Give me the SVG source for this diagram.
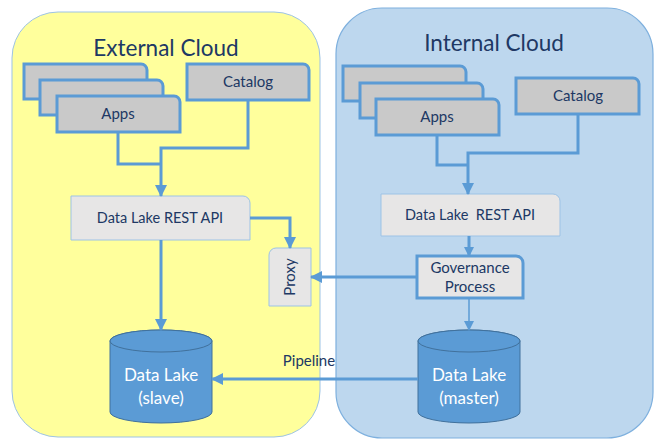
<svg xmlns="http://www.w3.org/2000/svg" width="655" height="439" viewBox="0 0 655 439">
<defs>
<style>
.t{font-family:Lato,"Liberation Sans",sans-serif;fill:#203864;text-anchor:middle}
.title{font-size:22.5px}
.lbl{font-size:15px}
.api-t{font-size:14.5px}
.cyl{font-size:17px;fill:#ffffff}
.app{fill:#c9c9c9;stroke:#5b9bd5;stroke-width:3}
.api{fill:#e7e6e6;stroke:#9dc3e6;stroke-width:1}
.gov{fill:#e7e6e6;stroke:#5b9bd5;stroke-width:3}
.db{fill:#5b9bd5;stroke:#41719c;stroke-width:1}
.c{fill:none;stroke:#5b9bd5;stroke-width:3}
.thin{fill:none;stroke:#5b9bd5;stroke-width:1.5}
</style>
<marker id="ah" markerUnits="userSpaceOnUse" markerWidth="12" markerHeight="12" viewBox="0 0 12 12" refX="11" refY="6" orient="auto">
<path d="M0,0 L12,6 L0,12 Z" fill="#5b9bd5"/>
</marker>
<marker id="ahs" markerUnits="userSpaceOnUse" markerWidth="10" markerHeight="10" viewBox="0 0 10 10" refX="9" refY="5" orient="auto">
<path d="M0,0 L10,5 L0,10 Z" fill="#5b9bd5"/>
</marker>
</defs>

<g id="external-cloud">
<rect x="12" y="12" width="308" height="425" rx="46" fill="#ffff9c" stroke="#9dc3e6" stroke-width="1"/>
<text class="t title" x="166" y="56">External Cloud</text>
</g>
<g id="internal-cloud">
<rect x="336" y="8" width="317" height="430" rx="46" fill="#bdd7ee" stroke="#7eb0de" stroke-width="1.2"/>
<text class="t title" x="494" y="51">Internal Cloud</text>
</g>

<g id="ext-apps">
<path class="app" d="M24,64 H141 A6,6 0 0 1 147,70 V99 H24 Z"/>
<text class="t lbl" x="85" y="90">Apps</text>
<path class="app" d="M40,80 H157 A6,6 0 0 1 163,86 V115 H40 Z"/>
<text class="t lbl" x="101" y="106">Apps</text>
<path class="app" d="M57,96 H174 A6,6 0 0 1 180,102 V132 H57 Z"/>
<text class="t lbl" x="118" y="119">Apps</text>
</g>
<g id="ext-catalog">
<path class="app" d="M187,64 H303 A6,6 0 0 1 309,70 V100 H187 Z"/>
<text class="t lbl" x="248" y="87">Catalog</text>
</g>
<g id="ext-api">
<path class="api" d="M71,196 H243 A7,7 0 0 1 250,203 V240 H71 Z"/>
<text class="t api-t" x="160" y="223">Data Lake REST API</text>
</g>
<g id="proxy">
<path class="api" d="M276,248 H311 V306 H269 V255 A7,7 0 0 1 276,248 Z"/>
<text class="t lbl" transform="translate(295,277) rotate(-90)">Proxy</text>
</g>
<g id="slave">
<path class="db" d="M110,341 A51,11 0 0 1 212,341 V412 A51,11 0 0 1 110,412 Z"/>
<ellipse class="db" cx="161" cy="341" rx="51" ry="11"/>
<text class="t cyl" x="161" y="381">Data Lake</text>
<text class="t cyl" x="161" y="404">(slave)</text>
</g>

<g id="int-apps">
<path class="app" d="M343,66 H460 A6,6 0 0 1 466,72 V101 H343 Z"/>
<text class="t lbl" x="404" y="93">Apps</text>
<path class="app" d="M360,83 H477 A6,6 0 0 1 483,89 V118 H360 Z"/>
<text class="t lbl" x="421" y="109">Apps</text>
<path class="app" d="M376,99 H493 A6,6 0 0 1 499,105 V135 H376 Z"/>
<text class="t lbl" x="437" y="122">Apps</text>
</g>
<g id="int-catalog">
<path class="app" d="M516,78 H633 A6,6 0 0 1 639,84 V114 H516 Z"/>
<text class="t lbl" x="578" y="101">Catalog</text>
</g>
<g id="int-api">
<path class="api" d="M381,194 H553 A7,7 0 0 1 560,201 V236 H381 Z"/>
<text class="t api-t" x="470" y="220" xml:space="preserve">Data Lake  REST API</text>
</g>
<g id="governance">
<path class="gov" d="M417,256 H516 A7,7 0 0 1 523,263 V298 H417 Z"/>
<text class="t lbl" x="470" y="273">Governance</text>
<text class="t lbl" x="470" y="292">Process</text>
</g>
<g id="master">
<path class="db" d="M418,341 A51,11 0 0 1 520,341 V412 A51,11 0 0 1 418,412 Z"/>
<ellipse class="db" cx="469" cy="341" rx="51" ry="11"/>
<text class="t cyl" x="469" y="381">Data Lake</text>
<text class="t cyl" x="469" y="404">(master)</text>
</g>

<g id="connectors">
<path class="c" d="M118,132 V164 H161"/>
<path class="c" d="M248,100 V148 H161 V196" marker-end="url(#ah)"/>
<path class="c" d="M250,218 H290 V248" marker-end="url(#ah)"/>
<path class="c" d="M161,240 V330" marker-end="url(#ah)"/>
<path class="c" d="M417,277 H311" marker-end="url(#ah)"/>
<path class="c" d="M418,379 H212" marker-end="url(#ah)"/>
<text class="t lbl" x="309" y="366">Pipeline</text>
<path class="c" d="M437,135 V165 H468"/>
<path class="c" d="M578,114 V153 H468 V194" marker-end="url(#ah)"/>
<path class="c" d="M469,236 V256" marker-end="url(#ahs)"/>
<path class="thin" d="M469,298 V330" marker-end="url(#ahs)"/>
</g>
</svg>
